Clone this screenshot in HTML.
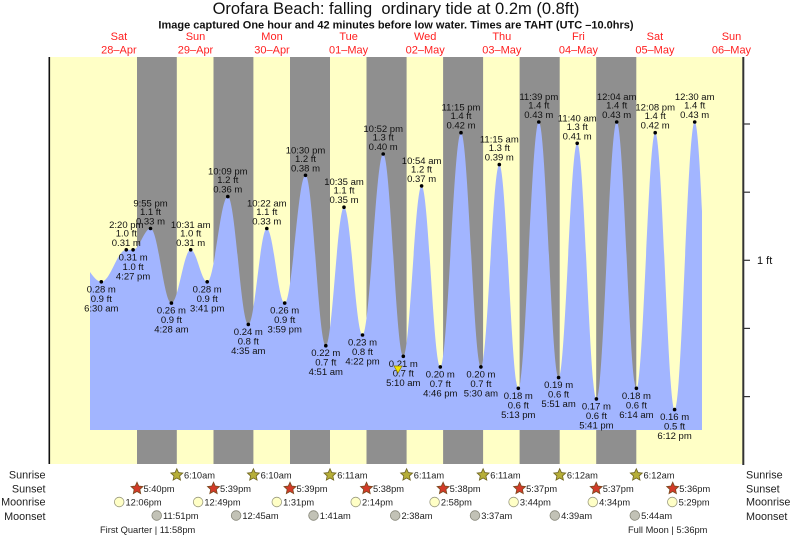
<!DOCTYPE html>
<html><head><meta charset="utf-8"><style>
html,body{margin:0;padding:0;background:#fff;}
svg{display:block;font-family:"Liberation Sans",Arial,sans-serif;}
.t{font-size:9.5px;fill:#111;text-anchor:middle;}
.d{font-size:11px;fill:#ff1f1f;text-anchor:middle;}
.e{font-size:9.3px;fill:#222;}
.r{font-size:10.8px;fill:#222;}
</style></head><body>
<svg width="793" height="538" viewBox="0 0 793 538" xmlns="http://www.w3.org/2000/svg">
<defs>
<path id="star" d="M0,-6.3 L1.76,-2.43 L5.99,-1.95 L2.85,0.93 L3.7,5.1 L0,3 L-3.7,5.1 L-2.85,0.93 L-5.99,-1.95 L-1.76,-2.43 Z"/>
<clipPath id="cl"><rect x="90" y="50" width="612" height="380"/></clipPath>
</defs>
<rect width="793" height="538" fill="#fff"/>
<text x="396" y="14" font-size="16.5" text-anchor="middle" fill="#111">Orofara Beach: falling&#160; ordinary tide at 0.2m (0.8ft)</text>
<text x="396" y="28.3" font-size="11" font-weight="bold" text-anchor="middle" fill="#111">Image captured One hour and 42 minutes before low water. Times are TAHT (UTC –10.0hrs)</text>
<g class="d">
<text x="118.9" y="40">Sat</text><text x="118.9" y="53.5">28–Apr</text>
<text x="195.5" y="40">Sun</text><text x="195.5" y="53.5">29–Apr</text>
<text x="272" y="40">Mon</text><text x="272" y="53.5">30–Apr</text>
<text x="348.6" y="40">Tue</text><text x="348.6" y="53.5">01–May</text>
<text x="425.2" y="40">Wed</text><text x="425.2" y="53.5">02–May</text>
<text x="501.8" y="40">Thu</text><text x="501.8" y="53.5">03–May</text>
<text x="578.4" y="40">Fri</text><text x="578.4" y="53.5">04–May</text>
<text x="654.9" y="40">Sat</text><text x="654.9" y="53.5">05–May</text>
<text x="731.5" y="40">Sun</text><text x="731.5" y="53.5">06–May</text>
</g>
<rect x="49" y="57" width="694" height="407" fill="#ffffc6"/>
<g fill="#8f8f8f">
<rect x="137" y="57" width="39.8" height="407"/>
<rect x="213.5" y="57" width="39.9" height="407"/>
<rect x="290" y="57" width="40" height="407"/>
<rect x="366.5" y="57" width="40.1" height="407"/>
<rect x="443.1" y="57" width="40" height="407"/>
<rect x="519.6" y="57" width="40.1" height="407"/>
<rect x="596.2" y="57" width="40.1" height="407"/>
</g>
<path clip-path="url(#cl)" fill="#a2b5ff" d="M77.4,260.5 C86.1,260.5 92.6,281.8 101.3,281.8 C110.4,281.8 117.2,249.8 126.3,249.8 C128.8,249.8 130.6,249.8 133.1,249.8 C139.4,249.8 144.2,228.5 150.5,228.5 C158.1,228.5 163.8,303.1 171.4,303.1 C178.4,303.1 183.7,249.8 190.7,249.8 C196.7,249.8 201.2,281.8 207.2,281.8 C214.7,281.8 220.3,196.6 227.8,196.6 C235.3,196.6 240.9,324.4 248.3,324.4 C255,324.4 260.1,228.5 266.8,228.5 C273.3,228.5 278.2,303.1 284.7,303.1 C292.3,303.1 297.9,175.3 305.5,175.3 C312.9,175.3 318.4,345.7 325.8,345.7 C332.4,345.7 337.4,207.2 344,207.2 C350.7,207.2 355.8,335 362.5,335 C370,335 375.7,154 383.2,154 C390.5,154 396,356.3 403.3,356.3 C410,356.3 415,185.9 421.6,185.9 C428.4,185.9 433.5,366.9 440.3,366.9 C447.8,366.9 453.5,132.7 461,132.7 C468.2,132.7 473.7,366.9 480.9,366.9 C487.6,366.9 492.6,164.6 499.3,164.6 C506.2,164.6 511.4,388.3 518.3,388.3 C525.7,388.3 531.4,122 538.8,122 C546,122 551.4,377.6 558.6,377.6 C565.4,377.6 570.4,143.3 577.2,143.3 C584.2,143.3 589.4,398.9 596.4,398.9 C603.8,398.9 609.3,122 616.7,122 C623.9,122 629.2,388.3 636.4,388.3 C643.2,388.3 648.4,132.7 655.2,132.7 C662.3,132.7 667.6,409.6 674.6,409.6 C681.9,409.6 687.4,122 694.7,122 C701.9,122 707.3,420.2 714.5,420.2 L714.5,430 L77.4,430 Z"/>
<g fill="#000">
<circle cx="101.3" cy="281.8" r="1.8"/><circle cx="126.3" cy="249.8" r="1.8"/><circle cx="133.1" cy="249.8" r="1.8"/><circle cx="150.5" cy="228.5" r="1.8"/>
<circle cx="171.4" cy="303.1" r="1.8"/><circle cx="190.7" cy="249.8" r="1.8"/><circle cx="207.2" cy="281.8" r="1.8"/><circle cx="227.8" cy="196.6" r="1.8"/>
<circle cx="248.3" cy="324.4" r="1.8"/><circle cx="266.8" cy="228.5" r="1.8"/><circle cx="284.7" cy="303.1" r="1.8"/><circle cx="305.5" cy="175.3" r="1.8"/>
<circle cx="325.8" cy="345.7" r="1.8"/><circle cx="344" cy="207.2" r="1.8"/><circle cx="362.5" cy="335" r="1.8"/><circle cx="383.2" cy="154" r="1.8"/>
<circle cx="403.3" cy="356.3" r="1.8"/><circle cx="421.6" cy="185.9" r="1.8"/><circle cx="440.3" cy="366.9" r="1.8"/><circle cx="461" cy="132.7" r="1.8"/>
<circle cx="480.9" cy="366.9" r="1.8"/><circle cx="499.3" cy="164.6" r="1.8"/><circle cx="518.3" cy="388.3" r="1.8"/><circle cx="538.8" cy="122" r="1.8"/>
<circle cx="558.6" cy="377.6" r="1.8"/><circle cx="577.2" cy="143.3" r="1.8"/><circle cx="596.4" cy="398.9" r="1.8"/><circle cx="616.7" cy="122" r="1.8"/>
<circle cx="636.4" cy="388.3" r="1.8"/><circle cx="655.2" cy="132.7" r="1.8"/><circle cx="674.6" cy="409.6" r="1.8"/><circle cx="694.7" cy="122" r="1.8"/>
</g>
<g class="t">
<!-- highs -->
<text x="126.3" y="227.8">2:20 pm</text><text x="126.3" y="236.3">1.0 ft</text><text x="126.3" y="245.8">0.31 m</text>
<text x="150.5" y="206.5">9:55 pm</text><text x="150.5" y="215">1.1 ft</text><text x="150.5" y="224.5">0.33 m</text>
<text x="190.7" y="227.8">10:31 am</text><text x="190.7" y="236.3">1.0 ft</text><text x="190.7" y="245.8">0.31 m</text>
<text x="227.8" y="174.6">10:09 pm</text><text x="227.8" y="183.1">1.2 ft</text><text x="227.8" y="192.6">0.36 m</text>
<text x="266.8" y="206.5">10:22 am</text><text x="266.8" y="215">1.1 ft</text><text x="266.8" y="224.5">0.33 m</text>
<text x="305.5" y="153.3">10:30 pm</text><text x="305.5" y="161.8">1.2 ft</text><text x="305.5" y="171.3">0.38 m</text>
<text x="344" y="185.2">10:35 am</text><text x="344" y="193.7">1.1 ft</text><text x="344" y="203.2">0.35 m</text>
<text x="383.2" y="132">10:52 pm</text><text x="383.2" y="140.5">1.3 ft</text><text x="383.2" y="150">0.40 m</text>
<text x="421.6" y="163.9">10:54 am</text><text x="421.6" y="172.4">1.2 ft</text><text x="421.6" y="181.9">0.37 m</text>
<text x="461" y="110.7">11:15 pm</text><text x="461" y="119.2">1.4 ft</text><text x="461" y="128.7">0.42 m</text>
<text x="499.3" y="142.6">11:15 am</text><text x="499.3" y="151.1">1.3 ft</text><text x="499.3" y="160.6">0.39 m</text>
<text x="538.8" y="100">11:39 pm</text><text x="538.8" y="108.5">1.4 ft</text><text x="538.8" y="118">0.43 m</text>
<text x="577.2" y="121.3">11:40 am</text><text x="577.2" y="129.8">1.3 ft</text><text x="577.2" y="139.3">0.41 m</text>
<text x="616.7" y="100">12:04 am</text><text x="616.7" y="108.5">1.4 ft</text><text x="616.7" y="118">0.43 m</text>
<text x="655.2" y="110.7">12:08 pm</text><text x="655.2" y="119.2">1.4 ft</text><text x="655.2" y="128.7">0.42 m</text>
<text x="694.7" y="100">12:30 am</text><text x="694.7" y="108.5">1.4 ft</text><text x="694.7" y="118">0.43 m</text>
<!-- lows -->
<text x="101.3" y="292.3">0.28 m</text><text x="101.3" y="301.8">0.9 ft</text><text x="101.3" y="311.3">6:30 am</text>
<text x="133.1" y="260.3">0.31 m</text><text x="133.1" y="269.8">1.0 ft</text><text x="133.1" y="279.3">4:27 pm</text>
<text x="171.4" y="313.6">0.26 m</text><text x="171.4" y="323.1">0.9 ft</text><text x="171.4" y="332.6">4:28 am</text>
<text x="207.2" y="292.3">0.28 m</text><text x="207.2" y="301.8">0.9 ft</text><text x="207.2" y="311.3">3:41 pm</text>
<text x="248.3" y="334.9">0.24 m</text><text x="248.3" y="344.4">0.8 ft</text><text x="248.3" y="353.9">4:35 am</text>
<text x="284.7" y="313.6">0.26 m</text><text x="284.7" y="323.1">0.9 ft</text><text x="284.7" y="332.6">3:59 pm</text>
<text x="325.8" y="356.2">0.22 m</text><text x="325.8" y="365.7">0.7 ft</text><text x="325.8" y="375.2">4:51 am</text>
<text x="362.5" y="345.5">0.23 m</text><text x="362.5" y="355">0.8 ft</text><text x="362.5" y="364.5">4:22 pm</text>
<text x="403.3" y="366.8">0.21 m</text><text x="403.3" y="376.3">0.7 ft</text><text x="403.3" y="385.8">5:10 am</text>
<text x="440.3" y="377.4">0.20 m</text><text x="440.3" y="386.9">0.7 ft</text><text x="440.3" y="396.4">4:46 pm</text>
<text x="480.9" y="377.4">0.20 m</text><text x="480.9" y="386.9">0.7 ft</text><text x="480.9" y="396.4">5:30 am</text>
<text x="518.3" y="398.8">0.18 m</text><text x="518.3" y="408.3">0.6 ft</text><text x="518.3" y="417.8">5:13 pm</text>
<text x="558.6" y="388.1">0.19 m</text><text x="558.6" y="397.6">0.6 ft</text><text x="558.6" y="407.1">5:51 am</text>
<text x="596.4" y="409.4">0.17 m</text><text x="596.4" y="418.9">0.6 ft</text><text x="596.4" y="428.4">5:41 pm</text>
<text x="636.4" y="398.8">0.18 m</text><text x="636.4" y="408.3">0.6 ft</text><text x="636.4" y="417.8">6:14 am</text>
<text x="674.6" y="420.1">0.16 m</text><text x="674.6" y="429.6">0.5 ft</text><text x="674.6" y="439.1">6:12 pm</text>
</g>
<polygon points="394,366 402,366 398,373" fill="#f2e200" stroke="#8a7a00" stroke-width="0.7"/>
<!-- axes -->
<rect x="48.5" y="57" width="1.6" height="407" fill="#111"/>
<rect x="742.3" y="57" width="2" height="408" fill="#333"/>
<g stroke="#333" stroke-width="1.2">
<line x1="744" y1="124" x2="750" y2="124"/>
<line x1="744" y1="192.2" x2="750" y2="192.2"/>
<line x1="744" y1="260.3" x2="750" y2="260.3"/>
<line x1="744" y1="328.4" x2="750" y2="328.4"/>
<line x1="744" y1="396.6" x2="750" y2="396.6"/>
</g>
<text x="757" y="264.2" font-size="11" fill="#111">1 ft</text>
<!-- bottom rows -->
<g class="r" text-anchor="end">
<text x="45.5" y="478.3">Sunrise</text>
<text x="45.5" y="492.6">Sunset</text>
<text x="45.5" y="505.6">Moonrise</text>
<text x="45.5" y="520">Moonset</text>
</g>
<g class="r">
<text x="746" y="478.3">Sunrise</text>
<text x="746" y="492.6">Sunset</text>
<text x="746" y="505.6">Moonrise</text>
<text x="746" y="520">Moonset</text>
</g>
<g fill="#b6ae38" stroke="#6e6420" stroke-width="0.8">
<use href="#star" x="176.8" y="475"/><use href="#star" x="253.4" y="475"/><use href="#star" x="330" y="475"/><use href="#star" x="406.6" y="475"/>
<use href="#star" x="483.1" y="475"/><use href="#star" x="559.7" y="475"/><use href="#star" x="636.3" y="475"/>
</g>
<g fill="#d23a28" stroke="#7a4a20" stroke-width="0.8">
<use href="#star" x="137" y="488.5"/><use href="#star" x="213.5" y="488.5"/><use href="#star" x="290" y="488.5"/><use href="#star" x="366.5" y="488.5"/>
<use href="#star" x="443.1" y="488.5"/><use href="#star" x="519.6" y="488.5"/><use href="#star" x="596.2" y="488.5"/><use href="#star" x="672.7" y="488.5"/>
</g>
<g fill="#ffffc6" stroke="#9a9a80" stroke-width="0.8">
<circle cx="119.2" cy="502" r="4.8"/><circle cx="198.1" cy="502" r="4.8"/><circle cx="276.8" cy="502" r="4.8"/><circle cx="355.7" cy="502" r="4.8"/>
<circle cx="434.6" cy="502" r="4.8"/><circle cx="513.6" cy="502" r="4.8"/><circle cx="592.8" cy="502" r="4.8"/><circle cx="672.3" cy="502" r="4.8"/>
</g>
<g fill="#c2c2b6" stroke="#858578" stroke-width="0.8">
<circle cx="156.7" cy="515.5" r="4.8"/><circle cx="236.1" cy="515.5" r="4.8"/><circle cx="313.5" cy="515.5" r="4.8"/><circle cx="395.2" cy="515.5" r="4.8"/>
<circle cx="475" cy="515.5" r="4.8"/><circle cx="554.8" cy="515.5" r="4.8"/><circle cx="634.8" cy="515.5" r="4.8"/>
</g>
<g class="e">
<text x="184" y="478.3">6:10am</text><text x="260.6" y="478.3">6:10am</text><text x="337.2" y="478.3">6:11am</text><text x="413.8" y="478.3">6:11am</text>
<text x="490.3" y="478.3">6:11am</text><text x="566.9" y="478.3">6:12am</text><text x="643.5" y="478.3">6:12am</text>
<text x="143.5" y="492">5:40pm</text><text x="220" y="492">5:39pm</text><text x="296.5" y="492">5:39pm</text><text x="373" y="492">5:38pm</text>
<text x="449.6" y="492">5:38pm</text><text x="526.1" y="492">5:37pm</text><text x="602.7" y="492">5:37pm</text><text x="679.2" y="492">5:36pm</text>
<text x="125.5" y="505.4">12:06pm</text><text x="204.4" y="505.4">12:49pm</text><text x="283.1" y="505.4">1:31pm</text><text x="362" y="505.4">2:14pm</text>
<text x="440.9" y="505.4">2:58pm</text><text x="519.9" y="505.4">3:44pm</text><text x="599.1" y="505.4">4:34pm</text><text x="678.6" y="505.4">5:29pm</text>
<text x="163" y="519">11:51pm</text><text x="242.4" y="519">12:45am</text><text x="319.8" y="519">1:41am</text><text x="401.5" y="519">2:38am</text>
<text x="481.3" y="519">3:37am</text><text x="561.1" y="519">4:39am</text><text x="641.1" y="519">5:44am</text>
<text x="100" y="533">First Quarter | 11:58pm</text>
<text x="628" y="533">Full Moon | 5:36pm</text>
</g>
</svg>
</body></html>
